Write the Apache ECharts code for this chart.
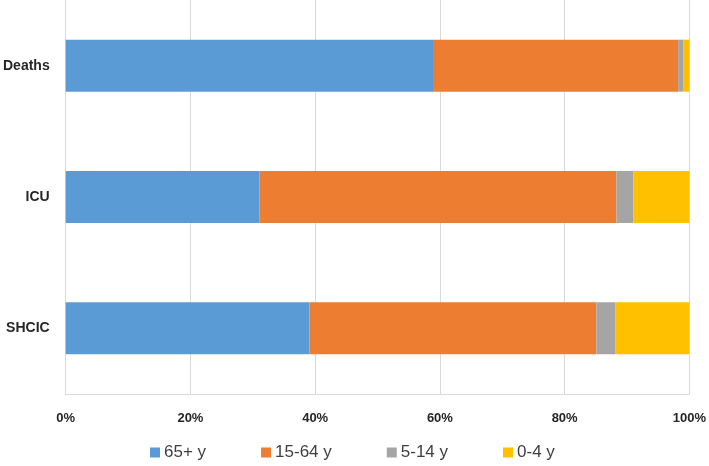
<!DOCTYPE html>
<html>
<head>
<meta charset="utf-8">
<script src="https://cdn.jsdelivr.net/npm/echarts@6/dist/echarts.min.js"></script>
<style>html,body{margin:0;padding:0;background:#fff}#c{width:709px;height:466px}</style>
</head>
<body>
<div id="c"></div>
<script>
const categories = ['SHCIC', 'ICU', 'Deaths'];
const seriesNames = ['65+ y', '15-64 y', '5-14 y', '0-4 y'];
const age65plus = [39.1, 31.1, 58.9];
const age15to64 = [46.0, 57.2, 39.3];
const age5to14 = [3.0, 2.7, 0.8];
const age0to4 = [11.9, 9.0, 1.0];
const xTicks = [0, 20, 40, 60, 80, 100];

const values = [age65plus, age15to64, age5to14, age0to4];
const colors = ['#5B9BD5', '#ED7D31', '#A5A5A5', '#FFC000'];

const chart = echarts.init(document.getElementById('c'));
chart.setOption({
  animation: false,
  textStyle: { fontFamily: 'Liberation Sans, Arial, sans-serif' },
  grid: { left: 65, right: 19, top: 0, bottom: 72, containLabel: false },
  legend: {
    data: seriesNames,
    left: 150,
    top: 444,
    padding: 0,
    itemWidth: 10,
    itemHeight: 10,
    itemGap: 55,
    icon: 'rect',
    textStyle: { fontSize: 17, color: '#404040', padding: [0, 0, 0, -1] }
  },
  xAxis: {
    type: 'value',
    min: xTicks[0],
    max: xTicks[xTicks.length - 1],
    interval: 20,
    axisLine: { show: true, lineStyle: { color: '#d9d9d9' } },
    axisTick: { show: false },
    splitLine: { show: true, lineStyle: { color: '#d9d9d9' } },
    axisLabel: { formatter: '{value}%', fontSize: 13, fontWeight: 'bold', color: '#262626', margin: 18 }
  },
  yAxis: {
    type: 'category',
    data: categories,
    axisLine: { show: true, lineStyle: { color: '#d9d9d9' } },
    axisTick: { show: false },
    axisLabel: { fontSize: 14, fontWeight: 'bold', color: '#262626', margin: 16 }
  },
  series: seriesNames.map((n, i) => ({
    name: n,
    type: 'bar',
    stack: 'total',
    barWidth: 52,
    data: values[i],
    itemStyle: { color: colors[i] }
  }))
});
</script>
</body>
</html>
